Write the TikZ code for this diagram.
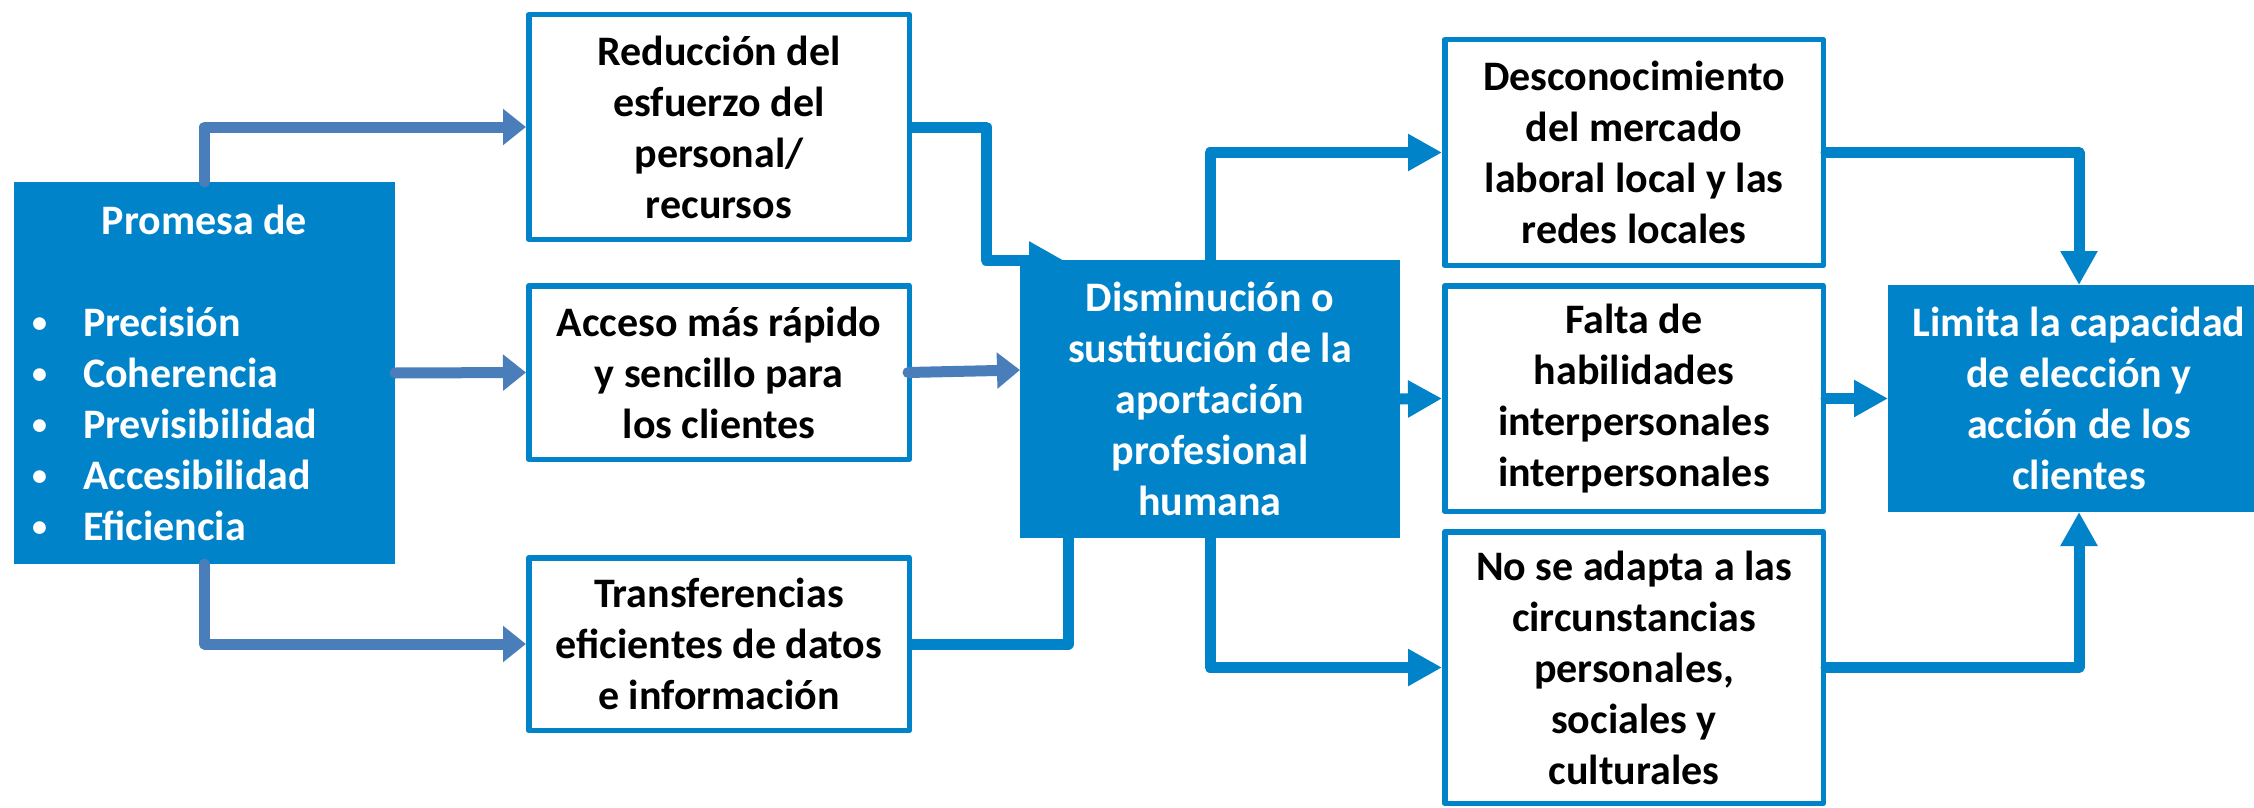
\documentclass[tikz,border=0pt]{standalone}
\usepackage{fontspec}
\setmainfont{Carlito}
\usetikzlibrary{arrows.meta,backgrounds,calc}
\definecolor{boxblue}{RGB}{0,131,201}
\definecolor{steel}{RGB}{74,126,187}
\newcommand{\mybul}{\makebox[53pt][l]{\hspace{2pt}{\fontsize{30pt}{51pt}\selectfont\raisebox{4pt}{\textbullet}}}}
\begin{document}
\begin{tikzpicture}[x=1pt,y=-1pt,
  txt/.style={font=\bfseries\fontsize{42pt}{51pt}\selectfont, align=center, inner sep=0pt},
  wbox/.style={txt, draw=boxblue, line width=5.5pt, fill=white, line join=round},
  bbox/.style={txt, fill=boxblue, text=white, outer sep=0pt},
  lconn/.style={draw=steel, line width=11pt, line cap=round, line join=round, -{Triangle[length=23pt,width=35pt]}},
  rconn/.style={draw=boxblue, line width=11pt, line cap=round, line join=round, -{Triangle[length=34pt,width=35pt]}},
  rline/.style={draw=boxblue, line width=11pt, line cap=round, line join=round},
]
\useasboundingbox (0,0) rectangle (2254,808);

\node[bbox, minimum width=381pt, minimum height=382pt] (promesa) at (204.5,373) {%
\begin{minipage}{349pt}\setlength{\parindent}{0pt}%
{\centering Promesa de\par}
\vspace{51pt}
\mybul Precisión\par
\mybul Coherencia\par
\mybul Previsibilidad\par
\mybul Accesibilidad\par
\mybul Eficiencia\par
\end{minipage}};

\node[wbox, minimum width=380.5pt, minimum height=224.5pt] (reduccion) at (719,127) {Reducción del\\esfuerzo del\\personal/\\recursos};
\node[wbox, minimum width=380.5pt, minimum height=173.5pt] (acceso) at (719,372.5) {Acceso más rápido\\y sencillo para\\los clientes};
\node[wbox, minimum width=380.5pt, minimum height=172.5pt] (transf) at (719,644) {Transferencias\\eficientes de datos\\e información};
\node[bbox, minimum width=380pt, minimum height=278pt] (dismin) at (1210,399) {Disminución o\\sustitución de la\\aportación\\profesional\\humana};
\node[wbox, minimum width=378.5pt, minimum height=225.5pt] (descon) at (1634,152.5) {Desconocimiento\\del mercado\\laboral local y las\\redes locales};
\node[wbox, minimum width=378.5pt, minimum height=225.5pt] (falta) at (1634,398.5) {Falta de\\habilidades\\interpersonales\\interpersonales};
\node[wbox, minimum width=378.5pt, minimum height=271.5pt] (noadapta) at (1634,667.5) {No se adapta a las\\circunstancias\\personales,\\sociales y\\culturales};
\node[bbox, minimum width=382pt, minimum height=227pt] (limita) at (2079,398.5) {Limita la capacidad\\de elección y\\acción de los\\clientes};

\draw[lconn] (promesa.north) |- (reduccion.west);
\draw[lconn] (promesa.east) -- (acceso.west);
\draw[lconn] (promesa.south) |- (transf.west);
\draw[lconn] ([xshift=-4pt]acceso.east) -- ([yshift=29pt]dismin.west);
\draw[rconn] (dismin.north) |- (descon.west);
\draw[rconn] (dismin.east) -- (falta.west);
\draw[rconn] (dismin.south) |- (noadapta.west);
\draw[rconn] (descon.east) -| (limita.north);
\draw[rconn] (falta.east) -- (limita.west);
\draw[rconn] (noadapta.east) -| (limita.south);

\begin{pgfonlayer}{background}
\fill[white] (0,0) rectangle (2254,808);
\coordinate (rdtip) at ([xshift=43pt]dismin.north west);
\draw[rconn] (reduccion.east) -- ++(74,0) |- (rdtip);
\draw[rline] (transf.east) -| ([xshift=48pt]dismin.south west);
\end{pgfonlayer}
\end{tikzpicture}
\end{document}
